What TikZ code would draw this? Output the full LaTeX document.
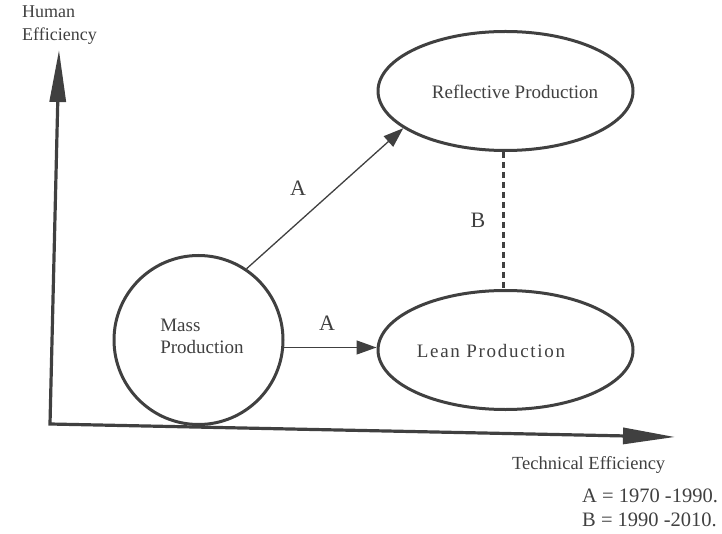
\documentclass[tikz,border=0pt]{standalone}
\usepackage{fontspec}
\setmainfont{Liberation Serif}
\usetikzlibrary{arrows.meta,shapes.geometric}
\definecolor{ink}{gray}{0.25}
\tikzset{
  shapeline/.style={draw=ink, line width=3pt},
  axisline/.style={draw=ink, line width=3.2pt},
  conn/.style={draw=ink, line width=1.3pt, -{Triangle[length=20pt,width=14pt]}},
  dashconn/.style={draw=ink, line width=3pt, dash pattern=on 6pt off 4pt},
  txt/.style={text=ink, inner sep=0pt},
}
\begin{document}
\begin{tikzpicture}[x=1pt,y=-1pt]
\useasboundingbox (0,0) rectangle (722,534);
% axes
\coordinate (O) at (50,424);
\coordinate (ytip) at (59,50);
\coordinate (xtip) at (675,437);
\draw[axisline, {Triangle[length=52pt,width=16pt]}-{Triangle[length=52pt,width=16pt]}] (xtip) -- (O) -- (ytip);
% shapes
\node[shapeline, circle, minimum size=169pt, inner sep=0pt] (mass) at (198.5,340) {};
\node[shapeline, ellipse, minimum width=255pt, minimum height=119pt, inner sep=0pt] (refl) at (505.5,91) {};
\node[shapeline, ellipse, minimum width=255pt, minimum height=119pt, inner sep=0pt] (lean) at (505.5,350) {};
% texts in shapes
\node[txt, align=left, font=\fontsize{19}{22}\selectfont] (masst) at (202,336) {Mass\\Production};
\node[txt, font=\fontsize{19}{22}\selectfont] (reflt) at (515,92) {Reflective Production};
\node[txt, font=\fontsize{19}{22}\selectfont\addfontfeature{LetterSpace=9}] (leant) at (491,351) {Lean Production};
% connectors
\draw[conn] (mass.56) -- (refl.200);
\draw[conn] (mass.-5) -- (mass.-5 -| lean.west);
\draw[dashconn] (refl.268) -- (lean.92);
% labels
\node[txt, font=\fontsize{22}{26}\selectfont] (la1) at (298,188) {A};
\node[txt, font=\fontsize{22}{26}\selectfont] (la2) at (327,323) {A};
\node[txt, font=\fontsize{22}{26}\selectfont] (lb) at (478,220) {B};
\node[txt, align=left, anchor=north west, font=\fontsize{18}{23}\selectfont] (yl) at (22,6) {Human\\Efficiency};
\node[txt, anchor=west, font=\fontsize{18.5}{22}\selectfont] (xl) at (512,465) {Technical Efficiency};
\node[txt, anchor=west, font=\fontsize{20.5}{24}\selectfont] (leg1) at (582,496) {A = 1970 -1990.};
\node[txt, anchor=west, font=\fontsize{20.5}{24}\selectfont] (leg2) at (582,520) {B = 1990 -2010.};
\end{tikzpicture}
\end{document}
